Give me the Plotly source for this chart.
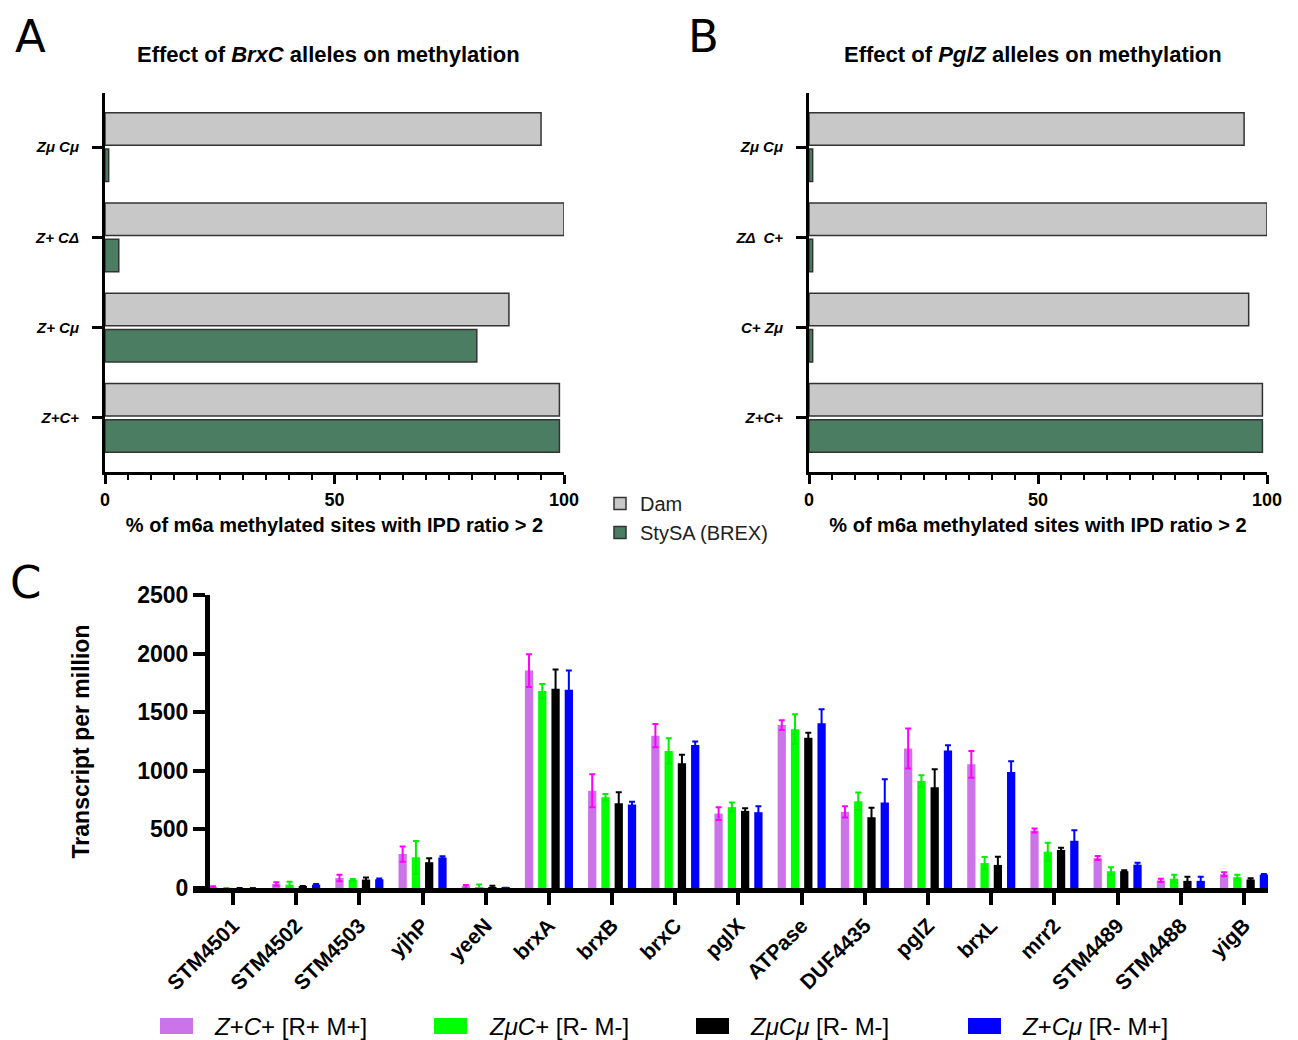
import plotly.graph_objects as go

# ---------------- data ----------------
a_cats = ["Z+C+", "Z+ Cμ", "Z+ CΔ", "Zμ Cμ"]
a_dam = [99, 88, 100, 95]
a_stysa = [99, 81, 3, 0.8]

b_cats = ["Z+C+", "C+ Zμ", "ZΔ  C+", "Zμ Cμ"]
b_dam = [99, 96, 100, 95]
b_stysa = [99, 0.8, 0.8, 0.8]

genes = ["STM4501", "STM4502", "STM4503", "yjhP", "yeeN", "brxA", "brxB", "brxC",
         "pglX", "ATPase", "DUF4435", "pglZ", "brxL", "mrr2", "STM4489", "STM4488", "yigB"]
zc_pp = [5, 35, 85, 290, 10, 1855, 830, 1300, 635, 1390, 650, 1190, 1055, 490, 255, 65, 118]
zc_pp_err = [10, 15, 28, 65, 15, 140, 140, 100, 55, 42, 48, 170, 115, 17, 17, 14, 17]
zmu_cp = [0, 28, 68, 262, 5, 1680, 775, 1170, 690, 1355, 740, 912, 213, 310, 143, 80, 92]
zmu_cp_err = [0, 25, 9, 140, 25, 60, 28, 108, 40, 127, 74, 51, 51, 77, 33, 34, 20]
zmu_cmu = [0, 15, 72, 220, 5, 1700, 723, 1065, 658, 1282, 604, 860, 197, 325, 143, 61, 72]
zmu_cmu_err = [0, 3, 17, 34, 15, 164, 93, 71, 23, 43, 80, 153, 70, 18, 8, 36, 11]
zp_cmu = [0, 28, 74, 260, 3, 1692, 712, 1220, 647, 1405, 730, 1174, 990, 403, 199, 61, 114]
zp_cmu_err = [0, 6, 8, 11, 0, 164, 23, 29, 51, 120, 198, 45, 91, 90, 17, 36, 6]

c_names = ["<i>Z</i>+<i>C</i>+ [R+ M+]", "<i>Zμ</i><i>C</i>+ [R- M-]",
           "<i>ZμCμ</i> [R- M-]", "<i>Z</i>+<i>Cμ</i> [R- M+]"]
c_colors = ["#cd73ea", "#00ff00", "#000000", "#0000ff"]
c_err_colors = ["#ff00ff", "#00ee00", "#000000", "#0000ff"]

# ---------------- figure ----------------
# the page body has an 8px margin, so the figure is drawn 8px in from the window corner
OFF = 8
W, H = 1298 - OFF, 1040 - OFF
FONT = "Liberation Sans, Arial, sans-serif"
GRAY = "#c8c8c8"
GREEN = "#4b7d63"
EDGE = "#333333"

def px(x):
    return (x - OFF) / W

def py(y):
    return 1 - (y - OFF) / H

fig = go.Figure()

# Panel A
fig.add_trace(go.Bar(x=a_dam, y=a_cats, orientation="h", xaxis="x", yaxis="y",
                     width=0.36, offset=0.02, name="Dam",
                     marker=dict(color=GRAY, line=dict(color=EDGE, width=1.5)),
                     showlegend=True))
fig.add_trace(go.Bar(x=a_stysa, y=a_cats, orientation="h", xaxis="x", yaxis="y",
                     width=0.36, offset=-0.38, name="StySA (BREX)",
                     marker=dict(color=GREEN, line=dict(color=EDGE, width=1.5)),
                     showlegend=True))
# Panel B
fig.add_trace(go.Bar(x=b_dam, y=b_cats, orientation="h", xaxis="x2", yaxis="y2",
                     width=0.36, offset=0.02, name="Dam",
                     marker=dict(color=GRAY, line=dict(color=EDGE, width=1.5)),
                     showlegend=False))
fig.add_trace(go.Bar(x=b_stysa, y=b_cats, orientation="h", xaxis="x2", yaxis="y2",
                     width=0.36, offset=-0.38, name="StySA (BREX)",
                     marker=dict(color=GREEN, line=dict(color=EDGE, width=1.5)),
                     showlegend=False))

# Panel C
series = [(zc_pp, zc_pp_err), (zmu_cp, zmu_cp_err), (zmu_cmu, zmu_cmu_err), (zp_cmu, zp_cmu_err)]
for i, (vals, errs) in enumerate(series):
    fig.add_trace(go.Bar(
        x=genes, y=vals, xaxis="x3", yaxis="y3",
        width=0.131, offset=-0.3805 + 0.21 * i,
        marker=dict(color=c_colors[i], line=dict(width=0)),
        error_y=dict(type="data", array=errs, symmetric=True, color=c_err_colors[i],
                     thickness=2, width=3),
        name=c_names[i], showlegend=False))

axis_common = dict(showgrid=False, zeroline=False, showline=True, linecolor="black",
                   ticks="outside", tickcolor="black", automargin=False)

yA_dom = [py(472), py(93)]
for k, (dom, cats) in enumerate([([px(105), px(564)], a_cats), ([px(809), px(1267)], b_cats)]):
    sx = "" if k == 0 else "2"
    fig.update_layout(**{
        f"xaxis{sx}": dict(domain=dom, range=[0, 100], anchor=f"y{sx}", **axis_common,
                           linewidth=3, tickwidth=3, ticklen=9,
                           tickvals=[0, 50, 100],
                           tickfont=dict(family=FONT, size=18, color="black", weight="bold"),
                           minor=dict(dtick=5, ticks="outside", ticklen=5, tickwidth=2,
                                      tickcolor="black"),
                           title=dict(text="<b>% of m6a methylated sites with IPD ratio > 2</b>",
                                      font=dict(family=FONT, size=20, color="black"),
                                      standoff=10)),
        f"yaxis{sx}": dict(domain=yA_dom, type="category", categoryorder="array",
                           categoryarray=cats, range=[-0.6, 3.6], anchor=f"x{sx}",
                           **axis_common, linewidth=3, tickwidth=3, ticklen=10,
                           ticklabelstandoff=10,
                           tickfont=dict(family=FONT, size=15, color="black",
                                         weight="bold", style="italic")),
    })

fig.update_layout(
    xaxis3=dict(domain=[px(193), px(1268)], range=[-0.633, 16.38], anchor="y3",
                type="category", categoryorder="array", categoryarray=genes,
                **axis_common, linewidth=5, tickwidth=4, ticklen=12, tickangle=-45,
                tickfont=dict(family=FONT, size=21, color="black", weight="bold")),
    yaxis3=dict(domain=[py(888), py(595)], range=[0, 2500], anchor="free",
                position=px(207), tickvals=[0, 500, 1000, 1500, 2000, 2500],
                **axis_common, linewidth=5, tickwidth=4, ticklen=12,
                tickfont=dict(family=FONT, size=23, color="black", weight="bold"),
                title=dict(text="<b>Transcript per million</b>",
                           font=dict(family=FONT, size=23, color="black"), standoff=40)),
)

fig.update_layout(
    width=W, height=H, margin=dict(l=0, r=0, t=0, b=0, autoexpand=False),
    paper_bgcolor="white", plot_bgcolor="white",
    barmode="overlay",
    font=dict(family=FONT, color="black"),
    legend=dict(x=px(600), y=py(484), xanchor="left", yanchor="top",
                font=dict(family=FONT, size=20, color="#222"),
                bgcolor="rgba(0,0,0,0)", tracegroupgap=0, itemwidth=30),
)

ann = []
# titles
ann.append(dict(text="<b>Effect of <i>BrxC</i> alleles on methylation</b>", x=px(328), y=py(55),
                xref="paper", yref="paper", showarrow=False, xanchor="center", yanchor="middle",
                font=dict(family=FONT, size=22, color="black")))
ann.append(dict(text="<b>Effect of <i>PglZ</i> alleles on methylation</b>", x=px(1033), y=py(55),
                xref="paper", yref="paper", showarrow=False, xanchor="center", yanchor="middle",
                font=dict(family=FONT, size=22, color="black")))
# panel letters
for lab, x, y in [("A", 30, 36), ("B", 703, 36), ("C", 25, 582)]:
    ann.append(dict(text=lab, x=px(x), y=py(y), xref="paper", yref="paper", showarrow=False,
                    xanchor="center", yanchor="middle",
                    font=dict(family="DejaVu Sans, sans-serif", size=45, color="black")))

# bottom legend (manual)
shapes = []
leg_pos = [(160, 212), (434, 487), (696, 748), (968, 1020)]
for i, (sx0, tx) in enumerate(leg_pos):
    shapes.append(dict(type="rect", xref="paper", yref="paper",
                       x0=px(sx0), x1=px(sx0 + 33), y0=py(1034), y1=py(1018),
                       fillcolor=c_colors[i], line=dict(width=0)))
    ann.append(dict(text=c_names[i], x=px(tx), y=py(1026), xref="paper", yref="paper",
                    showarrow=False, xanchor="left", yanchor="middle",
                    font=dict(family="Liberation Sans Narrow, Liberation Sans, Arial, sans-serif",
                              size=24, color="black")))

fig.update_layout(annotations=ann, shapes=shapes)

fig.write_html("out.html")
